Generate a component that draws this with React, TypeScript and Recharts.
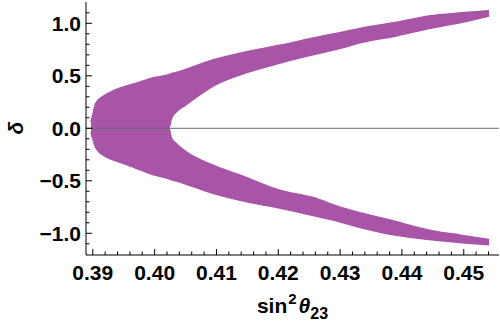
import { ComposedChart, Area, XAxis, YAxis, ReferenceLine } from "recharts";

// band edges (sin^2 theta23 vs delta)
const sin2Theta23 = [0.3897, 0.39, 0.3905, 0.3921, 0.3942, 0.397, 0.3997, 0.4023, 0.4027, 0.4034, 0.405, 0.4094, 0.4149, 0.4202, 0.4256, 0.4299, 0.4336, 0.4391, 0.4444, 0.4497, 0.4541];
const upperOuter = [0.06, 0.13, 0.24, 0.32, 0.38, 0.43, 0.48, 0.51, 0.52, 0.53, 0.56, 0.65, 0.73, 0.79, 0.86, 0.91, 0.955, 1.01, 1.07, 1.1, 1.12];
const upperInner = [0, 0, 0, 0, 0, 0, 0, 0, 0.09, 0.15, 0.22, 0.4, 0.53, 0.62, 0.7, 0.76, 0.82, 0.88, 0.95, 1.01, 1.07];
const lowerInner = [0, 0, 0, 0, 0, 0, 0, 0, -0.09, -0.14, -0.22, -0.35, -0.47, -0.59, -0.66, -0.75, -0.81, -0.89, -0.97, -1.02, -1.06];
const lowerOuter = [-0.04, -0.1, -0.19, -0.27, -0.32, -0.38, -0.44, -0.48, -0.49, -0.5, -0.53, -0.62, -0.7, -0.76, -0.83, -0.89, -0.95, -1.02, -1.06, -1.09, -1.11];

const xMajor = [0.39, 0.4, 0.41, 0.42, 0.43, 0.44, 0.45];
const xLabels = ["0.39", "0.40", "0.41", "0.42", "0.43", "0.44", "0.45"];
const yMajor = [-1, -0.5, 0, 0.5, 1];
const yLabels = ["\u22121.0", "\u22120.5", "0.0", "0.5", "1.0"];

const xMinor: number[] = [];
for (let i = 0; i < xMajor.length; i++) {
    for (let k = 1; k < 5; k++) {
        const v = +(xMajor[i] + k * 0.002).toFixed(4);
        if (v < 0.4556) xMinor.push(v);
    }
}
const yMinor: number[] = [];
for (let i = -11; i <= 11; i++) {
    if (i % 5 !== 0) yMinor.push(i / 10);
}

const xTicks = [...xMajor, ...xMinor].sort((a, b) => a - b);
const yTicks = [...yMajor, ...yMinor].sort((a, b) => a - b);

const rows = sin2Theta23.map((x, i) => ({
    x,
    upper: [upperInner[i], upperOuter[i]],
    lower: [lowerOuter[i], lowerInner[i]],
}));

const purple = "#a855a7";
const font = "'Liberation Sans', Arial, sans-serif";

const findMajor = (list: number[], v: number) => list.findIndex((m) => Math.abs(m - v) < 1e-9);

const makeTick = (side: "bottom" | "top" | "left" | "right") => (props: any) => {
    const { x, y, payload } = props;
    const v = payload.value;
    const majors = side === "bottom" || side === "top" ? xMajor : yMajor;
    const idx = findMajor(majors, v);
    const len = idx >= 0 ? 6 : 3.5;
    let line;
    if (side === "bottom") line = <line x1={x} y1={y} x2={x} y2={y - len} stroke="#000" />;
    else if (side === "top") line = <line x1={x} y1={y} x2={x} y2={y + len} stroke="#000" />;
    else if (side === "left") line = <line x1={x} y1={y} x2={x + len} y2={y} stroke="#000" />;
    else line = <line x1={x} y1={y} x2={x - len} y2={y} stroke="#000" />;
    return (
        <g>
            {line}
            {idx >= 0 && side === "bottom" && (
                <text x={x} y={y + 25} textAnchor="middle" fontFamily={font} fontWeight="bold" fontSize={21} fill="#000">
                    {xLabels[idx]}
                </text>
            )}
            {idx >= 0 && side === "left" && (
                <text x={x - 5} y={y + 7.5} textAnchor="end" fontFamily={font} fontWeight="bold" fontSize={21} fill="#000">
                    {yLabels[idx]}
                </text>
            )}
        </g>
    );
};

const XLabel = (props: any) => {
    const { viewBox } = props;
    const cx = viewBox.x + viewBox.width / 2;
    return (
        <text x={cx} y={viewBox.y + 58} textAnchor="middle" fontFamily={font} fontWeight="bold" fontSize={21} fill="#000">
            sin
            <tspan fontSize={15} dy={-9} dx={1}>2</tspan>
            <tspan fontStyle="italic" dy={9} dx={2}>θ</tspan>
            <tspan fontSize={16} dy={6}>23</tspan>
        </text>
    );
};

const YLabel = () => (
    <text x={15} y={128} transform="rotate(-90 15 128)" textAnchor="middle" dominantBaseline="central" fontFamily={font} fontWeight="bold" fontStyle="italic" fontSize={21} fill="#000">
        δ
    </text>
);

export default function App() {
    return (
        <div style={{ position: "absolute", left: 0, top: 0, background: "#fff" }}>
            <ComposedChart width={500} height={324} data={rows} margin={{ top: 2, right: 1, bottom: 0, left: 0 }}>
                <XAxis
                    xAxisId="b" dataKey="x" type="number" domain={[0.3889, 0.4557]} ticks={xTicks} interval={0}
                    height={69} tickSize={0} tickMargin={0} axisLine={{ stroke: "#000" }} tickLine={false}
                    tick={makeTick("bottom")} label={<XLabel />}
                />
                <XAxis
                    xAxisId="t" dataKey="x" type="number" orientation="top" domain={[0.3889, 0.4557]} ticks={xTicks} interval={0}
                    height={0} tickSize={0} tickMargin={0} axisLine={{ stroke: "#000" }} tickLine={false}
                    tick={makeTick("top")}
                />
                <YAxis
                    yAxisId="l" type="number" domain={[-1.207, 1.203]} ticks={yTicks} interval={0}
                    width={86} tickSize={0} tickMargin={0} axisLine={{ stroke: "#000" }} tickLine={false}
                    tick={makeTick("left")} label={<YLabel />}
                />
                <YAxis
                    yAxisId="r" type="number" orientation="right" domain={[-1.207, 1.203]} ticks={yTicks} interval={0}
                    width={0} tickSize={0} tickMargin={0} axisLine={{ stroke: "#000" }} tickLine={false}
                    tick={makeTick("right")}
                />
                <Area xAxisId="b" yAxisId="l" dataKey="upper" type="monotone" fill={purple} fillOpacity={1} stroke={purple} strokeWidth={1.5} isAnimationActive={false} dot={false} activeDot={false} />
                <Area xAxisId="b" yAxisId="l" dataKey="lower" type="monotone" fill={purple} fillOpacity={1} stroke={purple} strokeWidth={1.5} isAnimationActive={false} dot={false} activeDot={false} />
                <ReferenceLine xAxisId="b" yAxisId="l" y={0} stroke="#6b6b6b" strokeWidth={1} />
            </ComposedChart>
        </div>
    );
}
